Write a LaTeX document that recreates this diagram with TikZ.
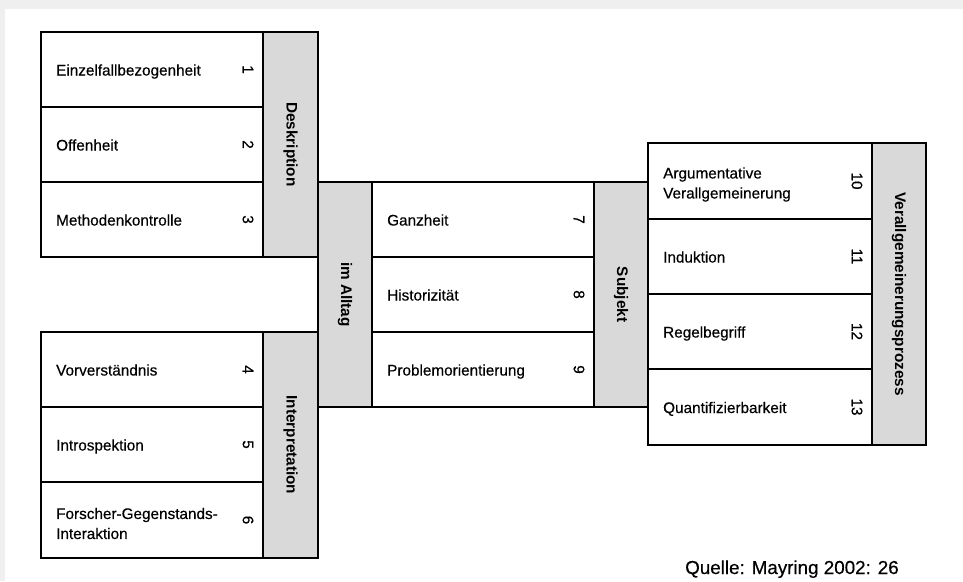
\documentclass[tikz,border=0pt]{standalone}
\usepackage{fontspec}
\setmainfont{Liberation Sans}
\newfontfamily\heavyfont[FakeBold=0.4]{Liberation Sans}
\definecolor{colgray}{HTML}{D9D9D9}
\definecolor{shadow}{HTML}{EFEFEF}
\tikzset{
  cellbox/.style={draw=black, line width=1.2pt, fill=white, anchor=north west, inner sep=0pt, outer sep=0pt},
  graybox/.style={draw=black, line width=1.2pt, fill=colgray, anchor=north west, inner sep=0pt, outer sep=0pt},
  celltext/.style={anchor=base west, inner sep=0pt, font=\heavyfont\fontsize{15.3}{20}\selectfont},
  celltexttwo/.style={anchor=west, align=left, inner sep=0pt, font=\heavyfont\fontsize{15.3}{20}\selectfont},
  cellnum/.style={rotate=-90, inner sep=0pt, font=\heavyfont\fontsize{15.3}{20}\selectfont},
  graytext/.style={rotate=-90, inner sep=0pt, font=\fontsize{15.3}{20}\selectfont\bfseries},
}
\newcommand\mycell[7]{%
  \node[cellbox, minimum width=#4pt, minimum height=#5pt] (#1) at (#2,#3) {};
  \node[celltext] (#1-t) at ([xshift=15pt,yshift=-6pt]#1.west) {#6};
  \node[cellnum] (#1-n) at ([xshift=-15pt]#1.east) {#7};
}
\newcommand\mycelltwo[7]{%
  \node[cellbox, minimum width=#4pt, minimum height=#5pt] (#1) at (#2,#3) {};
  \node[celltexttwo] (#1-t) at ([xshift=15pt,yshift=-3.5pt]#1.west) {#6};
  \node[cellnum] (#1-n) at ([xshift=-15pt]#1.east) {#7};
}
\newcommand\mygray[6]{%
  \node[graybox, minimum width=#4pt, minimum height=#5pt] (#1) at (#2,#3) {};
  \node[graytext] (#1-t) at (#1.center) {#6};
}
\begin{document}
\begin{tikzpicture}[x=1pt,y=-1pt]
\useasboundingbox (0,0) rectangle (963,581);
\fill[shadow] (0,0) rectangle (963,581);
\fill[white] (5,9) rectangle (963,581);
% middle
\mygray{alltag}{318}{182}{54}{225}{im Alltag}
\mycell{c7}{372}{182}{222}{75}{Ganzheit}{7}
\mycell{c8}{372}{257}{222}{75}{Historizität}{8}
\mycell{c9}{372}{332}{222}{75}{Problemorientierung}{9}
\mygray{subj}{594}{182}{54}{225}{Subjekt}
% top left
\mycell{c1}{41}{32}{222}{75}{Einzelfallbezogenheit}{1}
\mycell{c2}{41}{107}{222}{75}{Offenheit}{2}
\mycell{c3}{41}{182}{222}{75}{Methodenkontrolle}{3}
\mygray{desk}{263}{32}{55}{225}{Deskription}
% bottom left
\mycell{c4}{41}{332}{222}{75}{Vorverständnis}{4}
\mycell{c5}{41}{407}{222}{75}{Introspektion}{5}
\mycelltwo{c6}{41}{482}{222}{76}{Forscher-Gegenstands-\\Interaktion}{6}
\mygray{interp}{263}{332}{55}{226}{Interpretation}
% right
\mycelltwo{c10}{648}{143}{224}{76}{Argumentative\\Verallgemeinerung}{10}
\mycell{c11}{648}{219}{224}{75}{Induktion}{11}
\mycell{c12}{648}{294}{224}{75}{Regelbegriff}{12}
\mycell{c13}{648}{369}{224}{76}{Quantifizierbarkeit}{13}
\mygray{verall}{872}{143}{54}{302}{Verallgemeinerungsprozess}
% source
\node[anchor=base west, inner sep=0pt, font=\heavyfont\fontsize{18.8}{22}\selectfont] (src) at (685,574) {Quelle: Mayring 2002: 26};
\end{tikzpicture}
\end{document}
